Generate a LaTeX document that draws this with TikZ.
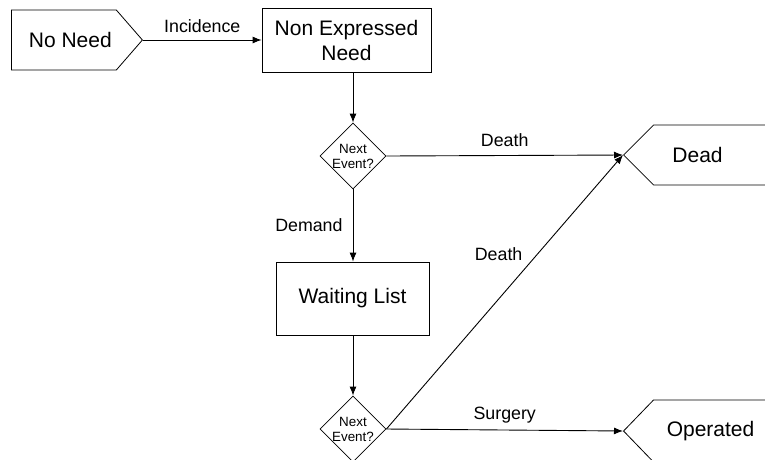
\documentclass[tikz,border=0pt]{standalone}
\usepackage{fontspec}
\setmainfont{Liberation Sans}
\usetikzlibrary{arrows.meta,shapes.geometric,shapes.symbols}

\begin{document}
\begin{tikzpicture}[x=1pt, y=-1pt,
    every node/.style={font=\fontsize{21}{25}\selectfont},
    flowline/.style={line width=0.9pt},
    arr/.style={flowline, -{Latex[length=9pt,width=7pt]}},
    lab/.style={font=\fontsize{17.8}{20}\selectfont, inner sep=0pt},
    state/.style={draw, line width=0.8pt, shape=signal, signal from=nowhere,
      minimum height=60pt, inner sep=0pt},
    box/.style={draw, line width=0.8pt, align=center, inner sep=0pt},
    event/.style={draw, line width=0.8pt, diamond, aspect=1, inner sep=0pt,
      minimum width=64pt, minimum height=62pt, align=center,
      font=\fontsize{13.4}{15}\selectfont}]
  \useasboundingbox (0,0) rectangle (765,459);
  \node [state, signal to=east, signal pointer angle=98, minimum width=131pt,
    anchor=west, label={[xshift=6.5pt]center:No Need}] (noneed) at (11,40) {};
  \node [box, minimum width=169pt, minimum height=64pt] (nonexp) at (346.5,40)
    {Non Expressed\\Need};
  \node [event] (q1) at (353,156) {Next\\Event?};
  \node [box, minimum width=153pt, minimum height=73pt] (wait) at (352.5,298.5)
    {Waiting List};
  \node [event] (q2) at (353,429) {Next\\Event?};
  \node [state, signal to=west, signal pointer angle=90, minimum width=150pt,
    anchor=west, label={[xshift=-16pt]center:Dead}] (dead) at (623,155) {};
  \node [state, signal to=west, signal pointer angle=92, minimum width=175pt,
    minimum height=62pt, anchor=west,
    label={[xshift=-15.5pt]center:Operated}] (oper) at (623,431) {};

  \draw [arr] (noneed.east) -- node [lab, above=7pt] {Incidence} (nonexp.west);
  \draw [arr] (nonexp.south -| q1) -- (q1.north);
  \draw [arr] (q1.east) -- node [lab, above=8pt] {Death} (dead.west);
  \draw [arr] (q1.south) -- node [lab, left=10pt] {Demand} (wait.north -| q1);
  \draw [arr] (wait.south -| q2) -- (q2.north);
  \draw [arr] (q2.east) -- node [lab, above=6pt] {Surgery} (oper.west);
  \draw [arr] (q2.east) -- node [lab, pos=0.64, left=15pt] {Death} (dead.west);
\end{tikzpicture}
\end{document}
